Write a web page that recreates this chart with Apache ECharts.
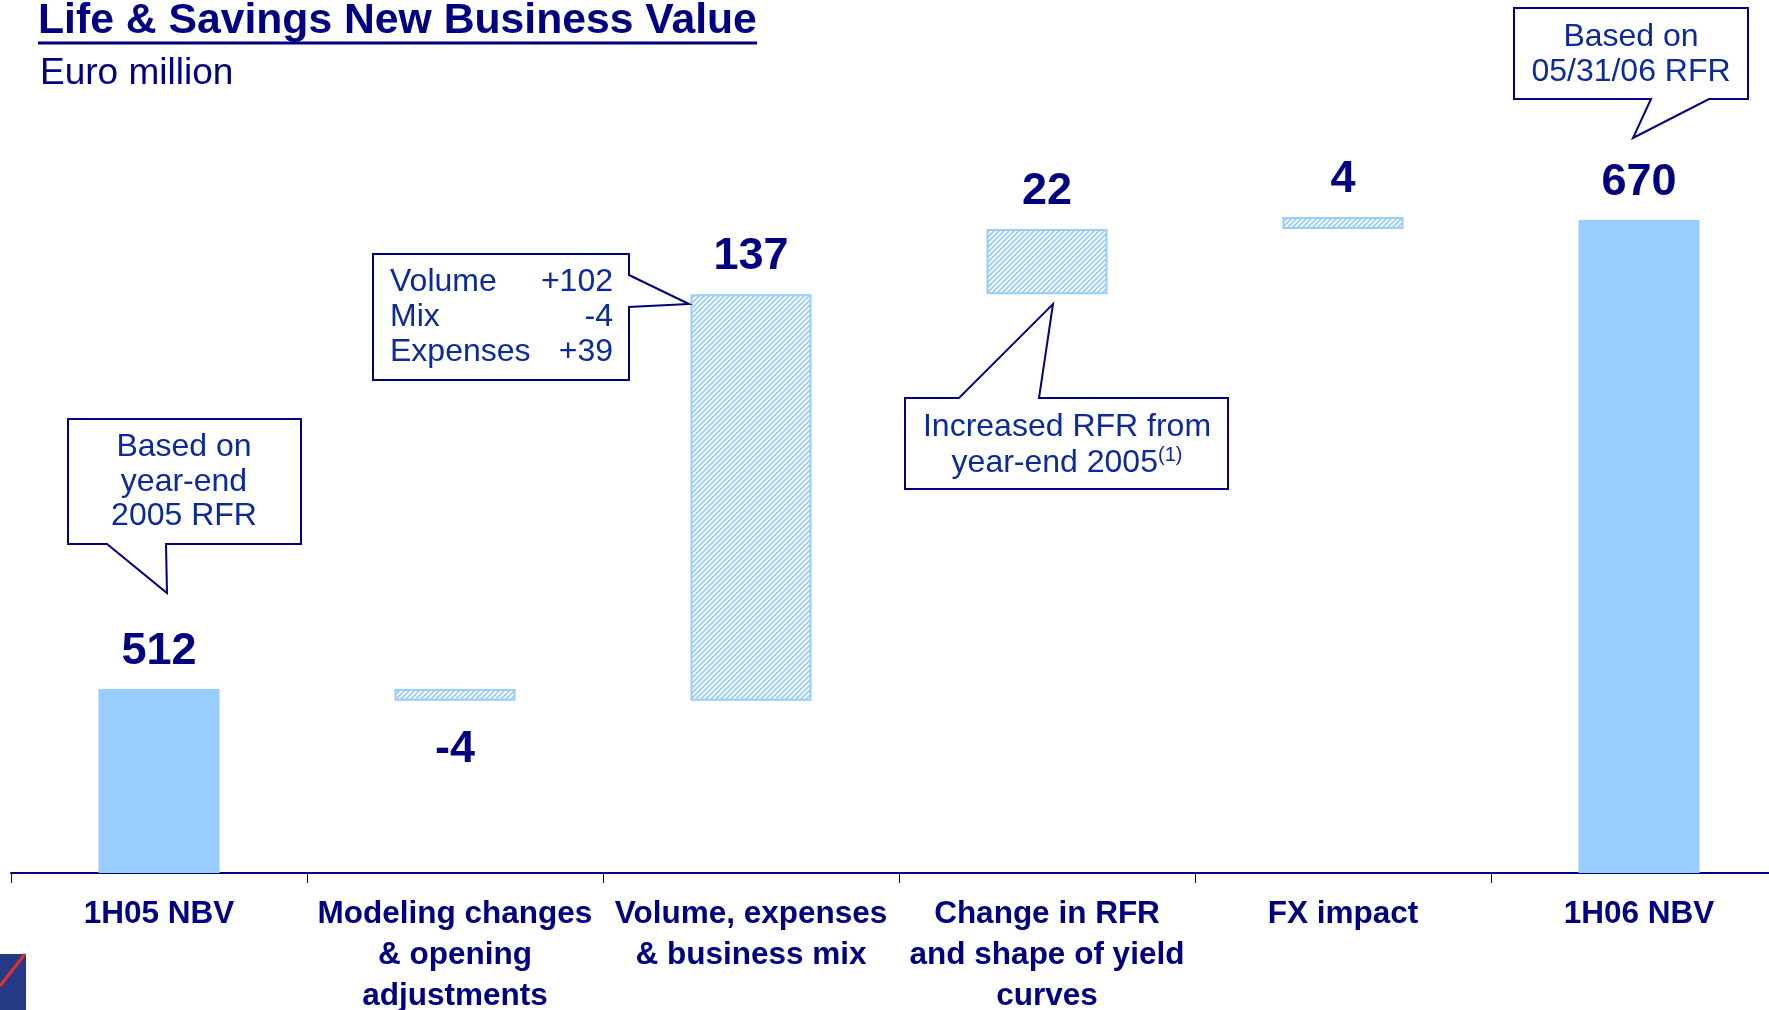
<html>

<head>
  <meta charset="utf-8">
  <title>Life & Savings New Business Value</title>
  <script src="https://cdn.jsdelivr.net/npm/echarts/dist/echarts.min.js"></script>
  <style>
    html, body { margin: 0; background: #fff; overflow: hidden; }
  </style>
</head>

<body>
  <div id="main" style="width: 1769px;height:1010px;"></div>
  <script type="text/javascript">
    // data
    var categories = [
      '1H05 NBV',
      'Modeling changes\n& opening\nadjustments',
      'Volume, expenses\n& business mix',
      'Change in RFR\nand shape of yield\ncurves',
      'FX impact',
      '1H06 NBV'
    ];
    var startValue = 512;
    var changes = [-4, 137, 22, 4];
    var endValue = 670;
    var mixLabels = ['Volume', 'Mix', 'Expenses'];
    var mixValues = ['+102', '-4', '+39'];

    var navy = '#000080';
    var textBlue = '#0d2a9a';
    var lightBlue = '#99ccff';
    var font = '"Liberation Sans", Arial, sans-serif';

    var myChart = echarts.init(document.getElementById('main'));

    function makeHatch() {
      var c = document.createElement('canvas');
      c.width = 5; c.height = 5;
      var g = c.getContext('2d');
      g.fillStyle = '#ffffff';
      g.fillRect(0, 0, 5, 5);
      g.strokeStyle = lightBlue;
      g.lineWidth = 1.8;
      g.beginPath();
      g.moveTo(0, 5); g.lineTo(5, 0);
      g.moveTo(-2.5, 2.5); g.lineTo(2.5, -2.5);
      g.moveTo(2.5, 7.5); g.lineTo(7.5, 2.5);
      g.stroke();
      return c;
    }

    // waterfall pieces
    var totals = [startValue, '-', '-', '-', '-', endValue];
    var base = ['-'];
    var delta = ['-'];
    var running = startValue;
    for (var i = 0; i < changes.length; i++) {
      var ch = changes[i];
      if (ch >= 0) {
        base.push(running);
        delta.push({ value: ch, label: { formatter: String(ch) } });
      } else {
        base.push(running + ch);
        delta.push({ value: -ch, label: { position: 'bottom', distance: 26, formatter: String(ch) } });
      }
      running += ch;
    }
    base.push('-');
    delta.push('-');

    var valueLabel = {
      show: true,
      position: 'top',
      distance: 15,
      color: navy,
      fontSize: 45,
      fontWeight: 'bold',
      fontFamily: font
    };

    function callout(points) {
      return {
        type: 'polygon',
        shape: { points: points },
        style: { fill: '#ffffff', stroke: navy, lineWidth: 2 },
        z: 10
      };
    }

    function label(x, y, text, size, align, lh) {
      return {
        type: 'text',
        x: x, y: y, z: 11,
        style: {
          text: text, fill: textBlue, fontSize: size, fontFamily: font,
          align: align, textAlign: align, verticalAlign: 'middle', textVerticalAlign: 'middle',
          lineHeight: lh || size
        }
      };
    }

    var graphics = [
      {
        type: 'text', x: 38, y: 21,
        style: {
          text: 'Life & Savings New Business Value', fill: navy, fontSize: 42.7, fontWeight: 'bold',
          fontFamily: font, align: 'left', textAlign: 'left', verticalAlign: 'middle', textVerticalAlign: 'middle'
        }
      },
      { type: 'line', shape: { x1: 38, y1: 43, x2: 757, y2: 43 }, style: { stroke: navy, lineWidth: 3 } },
      {
        type: 'text', x: 40, y: 74,
        style: {
          text: 'Euro million', fill: navy, fontSize: 37, fontFamily: font,
          align: 'left', textAlign: 'left', verticalAlign: 'middle', textVerticalAlign: 'middle'
        }
      },
      // callouts
      callout([[68, 419], [301, 419], [301, 544], [166, 544], [167, 593], [107, 544], [68, 544]]),
      label(184, 482, 'Based on\nyear-end\n2005 RFR', 32, 'center', 34.5),
      callout([[373, 254], [629, 254], [629, 275], [689, 304], [629, 307], [629, 380], [373, 380]]),
      label(390, 317, mixLabels.join('\n'), 32, 'left', 35),
      label(613, 317, mixValues.join('\n'), 32, 'right', 35),
      callout([[905, 398], [959, 398], [1053, 304], [1039, 398], [1228, 398], [1228, 489], [905, 489]]),
      {
        type: 'text', x: 1067, y: 445, z: 11,
        style: {
          text: '{a|Increased RFR from}\n{a|year-end 2005}{s|(1)}',
          align: 'center', textAlign: 'center', verticalAlign: 'middle', textVerticalAlign: 'middle',
          rich: {
            a: { fill: textBlue, color: textBlue, fontSize: 32, fontFamily: font, lineHeight: 36 },
            s: { fill: textBlue, color: textBlue, fontSize: 20, fontFamily: font, lineHeight: 20, verticalAlign: 'top', padding: [0, 0, 14, 0] }
          }
        }
      },
      callout([[1514, 8], [1748, 8], [1748, 99], [1709, 99], [1633, 138], [1651, 99], [1514, 99]]),
      label(1631, 55, 'Based on\n05/31/06 RFR', 32, 'center', 35),
      // corner logo
      { type: 'rect', shape: { x: 0, y: 954, width: 26, height: 56 }, style: { fill: '#253a85' } },
      { type: 'line', shape: { x1: 25, y1: 954, x2: 0, y2: 986 }, style: { stroke: '#e0302a', lineWidth: 3 } }
    ];

    myChart.setOption({
      animation: false,
      grid: { left: 11, top: 131, width: 1776, height: 742, outerBoundsMode: 'none', containLabel: false },
      xAxis: {
        type: 'category',
        data: categories,
        axisLine: { lineStyle: { color: navy, width: 2 } },
        axisTick: { show: true, length: 10, lineStyle: { color: navy, width: 1 } },
        axisLabel: {
          interval: 0, margin: 21, color: navy, fontSize: 31.5, fontWeight: 'bold',
          fontFamily: font, lineHeight: 41
        }
      },
      yAxis: {
        type: 'value',
        min: 450,
        max: 700,
        show: false,
        splitLine: { show: false }
      },
      series: [
        {
          name: 'total',
          type: 'bar',
          data: totals,
          barWidth: 121,
          barGap: '-100%',
          itemStyle: { color: lightBlue },
          label: valueLabel
        },
        {
          name: 'base',
          type: 'bar',
          stack: 'w',
          data: base,
          barWidth: 121,
          itemStyle: { color: 'transparent' }
        },
        {
          name: 'change',
          type: 'bar',
          stack: 'w',
          data: delta,
          barWidth: 121,
          itemStyle: {
            color: { image: makeHatch(), repeat: 'repeat' },
            borderColor: lightBlue,
            borderWidth: 2
          },
          label: valueLabel
        }
      ],
      graphic: graphics
    });
  </script>
</body>

</html>
